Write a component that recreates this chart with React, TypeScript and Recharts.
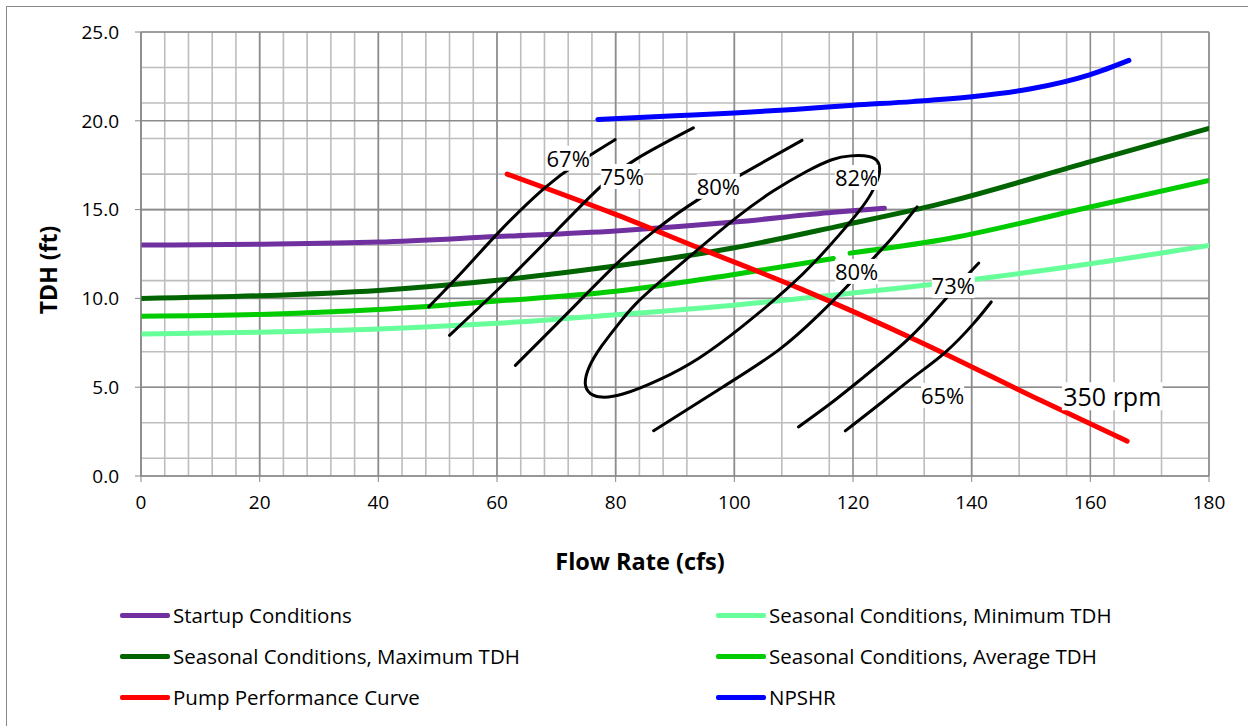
import React from "react";
import { ComposedChart, Line, Scatter, XAxis, YAxis, CartesianGrid } from "recharts";

// flow (cfs) / TDH (ft)
const flowTicks = [0, 20, 40, 60, 80, 100, 120, 140, 160, 180];
const tdhTicks = [0, 5, 10, 15, 20, 25];

const startupFlow = [0, 20, 40, 60, 80, 100, 116.7, 125.3];
const startupTdh = [13.0, 13.05, 13.17, 13.48, 13.8, 14.3, 14.85, 15.08];

const maxFlow = [0, 20, 40, 60, 80, 100, 118, 135, 160, 180];
const maxTdh = [10.0, 10.15, 10.45, 11.02, 11.82, 12.85, 14.1, 15.35, 17.7, 19.57];

const avgFlow = [0, 20, 40, 60, 80, 100, 116.7, 117.8, 119.5, 135, 160, 180];
const avgTdh = [9.0, 9.1, 9.38, 9.85, 10.4, 11.35, 12.25, null, 12.55, 13.3, 15.15, 16.64];

const minFlow = [0, 20, 40, 60, 80, 100, 120, 140, 160, 180];
const minTdh = [8.0, 8.1, 8.28, 8.6, 9.08, 9.62, 10.3, 11.05, 11.95, 12.98];

const pumpFlow = [61.7, 80.2, 94.3, 111.1, 131.3, 151.6, 166.2];
const pumpTdh = [17.0, 14.7, 12.8, 10.55, 7.55, 4.26, 1.96];

const npshrFlow = [77, 90, 100, 110, 120, 130, 140, 150, 160, 166.5];
const npshrTdh = [20.08, 20.28, 20.44, 20.64, 20.88, 21.08, 21.35, 21.8, 22.6, 23.4];

// hand drawn efficiency contours
const eff67Flow = [48.5, 54.4, 60.6, 67.9, 73.5, 79.9];
const eff67Tdh = [9.52, 11.58, 13.83, 16.18, 17.6, 18.94];

const eff75Flow = [52.0, 60.6, 69.0, 77.1, 83.6, 93.1];
const eff75Tdh = [7.92, 10.64, 13.46, 16.18, 17.87, 19.6];

const eff80aFlow = [63.1, 71.8, 80.2, 87.0, 93.7, 101.3, 111.4];
const eff80aTdh = [6.23, 9.14, 11.96, 13.93, 15.52, 17.0, 18.9];

const eff82Flow = [74.6, 75.6, 77.4, 80.8, 87.5, 94.0, 101.0, 109.4, 113.9, 117.9, 121.2, 123.2, 124.6, 124.5, 123.0, 119.5, 116.7, 112.3, 106.6, 101.0, 93.7, 86.4, 83.0, 80.8, 77.4, 75.3];
const eff82Tdh = [5.1, 4.6, 4.39, 4.5, 5.4, 6.55, 8.3, 10.64, 12.15, 13.65, 14.96, 15.9, 17.0, 17.7, 18.05, 18.05, 17.9, 17.2, 16.09, 14.77, 12.71, 10.64, 9.6, 8.7, 7.26, 6.1];

const eff80bFlow = [86.4, 98.0, 107.5, 114.0, 118.5, 122.4, 126.3, 130.8];
const eff80bTdh = [2.55, 5.0, 7.1, 9.0, 10.5, 11.9, 13.3, 15.15];

const eff73Flow = [110.8, 116.2, 121.8, 129.7, 135.9, 141.2];
const eff73Tdh = [2.76, 4.08, 5.57, 7.83, 10.08, 11.99];

const eff65Flow = [118.7, 124.6, 130.2, 135.6, 140.3, 143.3];
const eff65Tdh = [2.54, 4.08, 5.57, 6.98, 8.58, 9.8];

const pctLabelText = ["67%", "75%", "80%", "82%", "80%", "73%", "65%"];
const pctLabelFlow = [72.0, 81.1, 97.3, 120.6, 120.6, 136.9, 135.1];
const pctLabelTdh = [17.89, 16.87, 16.31, 16.81, 11.52, 10.73, 4.54];

const rpmLabelText = ["350 rpm"];
const rpmLabelFlow = [163.7];
const rpmLabelTdh = [4.49];

const legendLeft = [
  { name: "Startup Conditions", color: "#7030a0" },
  { name: "Seasonal Conditions, Maximum TDH", color: "#006400" },
  { name: "Pump Performance Curve", color: "#ff0000" },
];
const legendRight = [
  { name: "Seasonal Conditions, Minimum TDH", color: "#66ff99" },
  { name: "Seasonal Conditions, Average TDH", color: "#00cc00" },
  { name: "NPSHR", color: "#0000ff" },
];

const toPoints = (xs: number[], ys: (number | null)[]) => xs.map((x, i) => ({ x, y: ys[i] }));
const toLabels = (xs: number[], ys: number[], t: string[]) => xs.map((x, i) => ({ x, y: ys[i], text: t[i] }));

const steps = (max: number, step: number) => Array.from({ length: Math.round(max / step) + 1 }, (_, i) => i * step);

const FONT = "'Open Sans', sans-serif";

function BoxLabel(props: any) {
  const { cx, cy, payload, fontSize } = props;
  if (cx == null || cy == null) return null;
  const w = payload.text.length * fontSize * 0.53 + 8;
  const h = fontSize + 3;
  return (
    <g>
      <rect x={cx - w / 2} y={cy - h / 2} width={w} height={h} fill="#fff" />
      <text x={cx} y={cy} textAnchor="middle" dominantBaseline="central" fontSize={fontSize} fontFamily={FONT} fill="#000">
        {payload.text}
      </text>
    </g>
  );
}

function LegendItem({ name, color, left, top }: { name: string; color: string; left: number; top: number }) {
  return (
    <div style={{ position: "absolute", left, top, display: "flex", alignItems: "center", height: 24 }}>
      <div style={{ width: 50, height: 5, background: color, borderRadius: 2 }} />
      <span style={{ fontFamily: FONT, fontSize: 20.5, color: "#000", marginLeft: 3, whiteSpace: "nowrap" }}>{name}</span>
    </div>
  );
}

export default function App() {
  const colorLine = (xs: number[], ys: (number | null)[], color: string, key: string) => (
    <Line
      key={key}
      data={toPoints(xs, ys)}
      dataKey="y"
      stroke={color}
      strokeWidth={5}
      strokeLinecap="round"
      type="monotone"
      dot={false}
      activeDot={false}
      isAnimationActive={false}
    />
  );
  const blackLine = (xs: number[], ys: number[], key: string, type: any = "natural") => (
    <Line
      key={key}
      data={toPoints(xs, ys)}
      dataKey="y"
      stroke="#000"
      strokeWidth={3}
      strokeLinecap="round"
      type={type}
      dot={false}
      activeDot={false}
      isAnimationActive={false}
    />
  );

  return (
    <div style={{ position: "absolute", left: 0, top: 0, width: 1248, height: 726, overflow: "hidden", background: "#fff" }}>
      <div style={{ position: "absolute", left: 6, top: 6, width: 1300, height: 800, border: "1.5px solid #898989" }} />
      <div style={{ position: "absolute", left: 0, top: 0 }}>
        <ComposedChart width={1248} height={726} margin={{ top: 32, right: 39, left: 81, bottom: 220 }} style={{ fontFamily: FONT }}>
          <CartesianGrid stroke="#bdbdbd" strokeWidth={1.6} verticalValues={steps(180, 4)} horizontalValues={steps(25, 1)} />
          <CartesianGrid stroke="#8c8c8c" strokeWidth={1.6} verticalValues={flowTicks} horizontalValues={tdhTicks} />
          <XAxis
            type="number"
            dataKey="x"
            domain={[0, 180]}
            ticks={flowTicks}
            allowDataOverflow
            height={30}
            stroke="#868686"
            tickSize={6}
            tickMargin={14}
            tick={{ fontSize: 19, fill: "#000", fontFamily: FONT }}
          />
          <YAxis
            type="number"
            dataKey="y"
            domain={[0, 25]}
            ticks={tdhTicks}
            allowDataOverflow
            width={60}
            stroke="#868686"
            tickSize={6}
            tickMargin={16}
            tickFormatter={(v: number) => v.toFixed(1)}
            tick={{ fontSize: 19, fill: "#000", fontFamily: FONT }}
          />
          {colorLine(minFlow, minTdh, "#66ff99", "min")}
          {colorLine(avgFlow, avgTdh, "#00cc00", "avg")}
          {colorLine(maxFlow, maxTdh, "#006400", "max")}
          {colorLine(startupFlow, startupTdh, "#7030a0", "startup")}
          {colorLine(npshrFlow, npshrTdh, "#0000ff", "npshr")}
          {colorLine(pumpFlow, pumpTdh, "#ff0000", "pump")}
          {blackLine(eff67Flow, eff67Tdh, "e67")}
          {blackLine(eff75Flow, eff75Tdh, "e75")}
          {blackLine(eff80aFlow, eff80aTdh, "e80a")}
          {blackLine(eff82Flow, eff82Tdh, "e82", "basisClosed")}
          {blackLine(eff80bFlow, eff80bTdh, "e80b")}
          {blackLine(eff73Flow, eff73Tdh, "e73")}
          {blackLine(eff65Flow, eff65Tdh, "e65")}
          <Scatter
            data={toLabels(pctLabelFlow, pctLabelTdh, pctLabelText)}
            dataKey="y"
            isAnimationActive={false}
            shape={(p: any) => <BoxLabel {...p} fontSize={22} />}
          />
          <Scatter
            data={toLabels(rpmLabelFlow, rpmLabelTdh, rpmLabelText)}
            dataKey="y"
            isAnimationActive={false}
            shape={(p: any) => <BoxLabel {...p} fontSize={25} />}
          />
        </ComposedChart>
      </div>
      <div
        style={{
          position: "absolute",
          left: 640,
          top: 561,
          transform: "translate(-50%, -50%)",
          fontFamily: FONT,
          fontWeight: 700,
          fontSize: 23.5,
          whiteSpace: "nowrap",
        }}
      >
        Flow Rate (cfs)
      </div>
      <div
        style={{
          position: "absolute",
          left: 48,
          top: 270,
          transform: "translate(-50%, -50%) rotate(-90deg)",
          fontFamily: FONT,
          fontWeight: 700,
          fontSize: 23,
          whiteSpace: "nowrap",
        }}
      >
        TDH (ft)
      </div>
      {legendLeft.map((d, i) => (
        <LegendItem key={d.name} name={d.name} color={d.color} left={120} top={603 + i * 41} />
      ))}
      {legendRight.map((d, i) => (
        <LegendItem key={d.name} name={d.name} color={d.color} left={716} top={603 + i * 41} />
      ))}
    </div>
  );
}
